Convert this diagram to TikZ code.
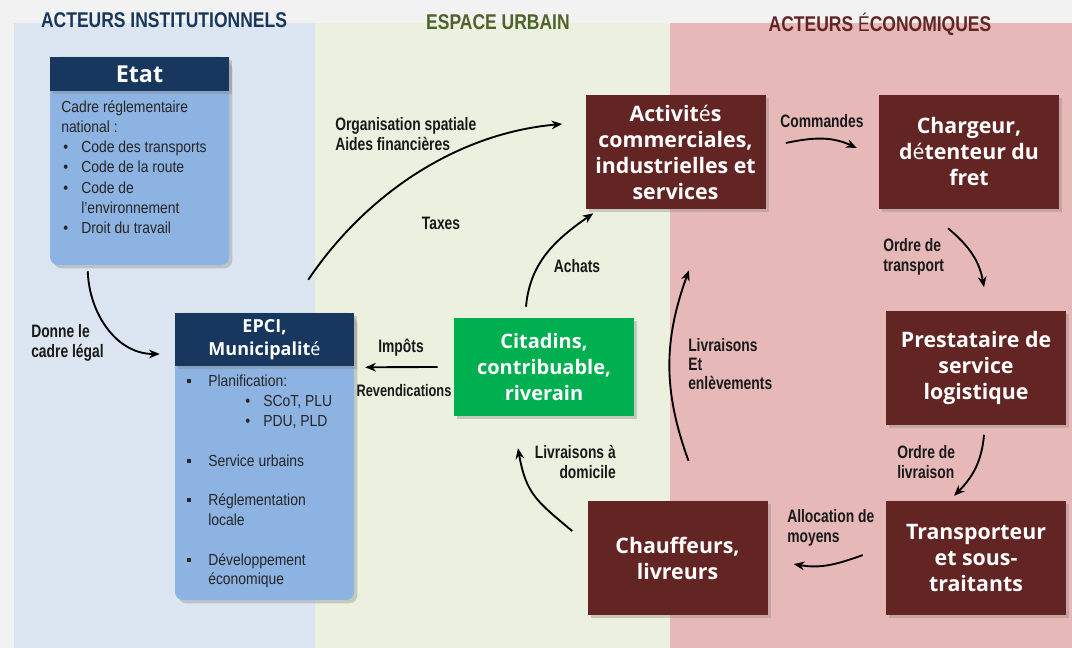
\documentclass[tikz,border=0pt]{standalone}
\usepackage{fontspec}
\setmainfont{Liberation Sans}
\newfontfamily\narrowfont[FakeStretch=0.87]{Liberation Sans}
\newfontfamily\labelfont[FakeStretch=0.77]{Liberation Sans}
\newfontfamily\headfont[FakeStretch=0.82]{Liberation Sans}
\newfontfamily\boxfont{Open Sans}
\usetikzlibrary{arrows.meta, positioning, shadows, calc}

\definecolor{pagegrey}{HTML}{F2F2F2}
\definecolor{instblue}{HTML}{DCE6F2}
\definecolor{urbgreen}{HTML}{EBF1DE}
\definecolor{ecopink}{HTML}{E6B9B8}
\definecolor{navy}{HTML}{17375E}
\definecolor{skyblue}{HTML}{8DB3E2}
\definecolor{wine}{HTML}{632523}
\definecolor{citygreen}{HTML}{00B050}
\definecolor{olive}{HTML}{4F6228}

\newcommand{\lite}[1]{{\mdseries#1}}
\newcommand{\sqb}{\makebox[15.75pt][l]{\rule[2.6pt]{3pt}{3pt}}}
\newcommand{\dotb}{\makebox[15pt][l]{\hspace*{1.5pt}•}}

\begin{document}
\begin{tikzpicture}[
    x=0.75pt, y=0.75pt,
    shade/.style={drop shadow={shadow xshift=2.5pt, shadow yshift=-2.5pt, opacity=0.35}},
    actor/.style={rectangle, fill=wine, text=white, align=center, minimum width=135pt, minimum height=85.5pt, shade,
        font=\boxfont\bfseries\fontsize{16pt}{19.5pt}\selectfont},
    blockhead/.style={rectangle, fill=navy, text=white, align=center, minimum width=134.25pt, shade},
    blockbody/.style={rectangle, rounded corners=6pt, fill=skyblue, minimum width=134.25pt, shade},
    bodytext/.style={font=\narrowfont\fontsize{12pt}{15.2pt}\selectfont, text=black!85, align=left, inner sep=0pt},
    tag/.style={font=\labelfont\bfseries\fontsize{13.5pt}{14.5pt}\selectfont, text=black!90, align=left, inner sep=0pt},
    title/.style={font=\headfont\bfseries\fontsize{16pt}{18pt}\selectfont},
    arrow/.style={-{Stealth[length=8pt, width=6.5pt]}, line width=1.4pt}
]

\useasboundingbox (0,0) rectangle (1072,-648);
\fill[pagegrey] (0,0) rectangle (1072,-648);
\fill[instblue] (14,-23) rectangle (315,-648);
\fill[urbgreen] (315,-23) rectangle (670,-648);
\fill[ecopink] (670,-23) rectangle (1072,-648);

\node[title, text=navy] (inst) at (164,-20) {ACTEURS INSTITUTIONNELS};
\node[title, text=olive] (urb) at (498,-22) {ESPACE URBAIN};
\node[title, text=wine] (eco) at (880,-24) {ACTEURS \lite{É}CONOMIQUES};

% acteurs institutionnels
\node[blockbody, minimum height=156pt] (etatbody) at (139.5,-161) {};
\node[blockhead, minimum height=25.5pt, font=\boxfont\bfseries\fontsize{17.5pt}{20pt}\selectfont] (etat) at (139.5,-74) {Etat};
\node[bodytext, anchor=north west] (etattext) at (61,-100) {Cadre réglementaire\\national :\\\dotb Code des transports\\\dotb Code de la route\\\dotb Code de\\\hspace*{15pt}l’environnement\\\dotb Droit du travail};

\node[blockbody, minimum height=215.25pt] (epcibody) at (264.5,-456.5) {};
\node[blockhead, minimum height=39.75pt, font=\boxfont\bfseries\fontsize{13.5pt}{17pt}\selectfont] (epci) at (264.5,-339.5) {EPCI,\\Municipalit\lite{é}};
\node[bodytext, anchor=north west, font=\narrowfont\fontsize{12pt}{14.8pt}\selectfont] (epcitext) at (187,-375) {\sqb Planification:\\\hspace*{42pt}\dotb SCoT, PLU\\\hspace*{42pt}\dotb PDU, PLD\\[15pt]\sqb Service urbains\\[15pt]\sqb Réglementation\\\hspace*{15.75pt}locale\\[15pt]\sqb Développement\\\hspace*{15.75pt}économique};

% espace urbain
\node[actor, fill=citygreen, minimum height=73.5pt, font=\boxfont\bfseries\fontsize{15pt}{19.5pt}\selectfont] (citadins) at (544,-367) {Citadins,\\contribuable,\\riverain};

% acteurs economiques
\node[actor] (activ) at (675.5,-152) {Activit\lite{é}s\\commerciales,\\industrielles et\\services};
\node[actor, right=84.75pt of activ] (charg) {Chargeur,\\d\lite{é}tenteur du\\fret};
\node[actor, below=75.75pt of charg, xshift=5.25pt] (presta) {Prestataire de\\service\\logistique};
\node[actor, below=57pt of presta] (transp) {Transporteur\\et sous-\\traitants};
\node[actor, left=88.5pt of transp] (chauff) {Chauffeurs,\\livreurs};

% labels
\node[tag, anchor=west] (legal) at (31,-343) {Donne le\\cadre légal};
\node[tag, anchor=west] (orga) at (335,-134) {Organisation spatiale\\Aides financières};
\node[tag] (taxes) at (441,-223) {Taxes};
\node[tag] (achats) at (577,-266) {Achats};
\node[tag] (impots) at (401,-348) {Impôts};
\node[tag, font=\labelfont\bfseries\fontsize{12.5pt}{14pt}\selectfont] (revend) at (404,-391) {Revendications};
\node[tag, anchor=east, align=right] (domicile) at (616,-462) {Livraisons à\\domicile};
\node[tag, anchor=west] (enlev) at (688,-364) {Livraisons\\Et\\enlèvements};
\node[tag] (cmd) at (822,-121) {Commandes};
\node[tag, anchor=west] (otransp) at (883,-257) {Ordre de\\transport};
\node[tag, anchor=west] (olivr) at (897,-462) {Ordre de\\livraison};
\node[tag, anchor=west] (alloc) at (787,-528) {Allocation de\\moyens};

% flux
\draw[arrow] ($(etatbody.south west)+(38,-6)$) to[out=-88, in=180] ($(epci.west)+(-15,-14.5)$);
\draw[arrow] ($(epci.north east)+(-46,33)$) to[out=56, in=185, looseness=0.9] ($(activ.west)+(-23,28)$);
\draw[arrow] ($(citadins.north)+(-18,11)$) to[out=85, in=215] ($(activ.south west)+(8,-4)$);
\draw[arrow] ($(citadins.west)+(-16,0)$) -- ($(epci.south east)+(11,-1)$);
\draw[arrow] ($(chauff.west)+(-15,27)$) to[out=140, in=-80, looseness=1.2] ($(citadins.south)+(-26,-32)$);
\draw[arrow] ($(chauff.north)+(11,40)$) to[out=110, in=-110] ($(activ.south)+(13.5,-61)$);
\draw[arrow] ($(activ.east)+(20,9)$) to[out=12, in=155] ($(charg.west)+(-22,4)$);
\draw[arrow] ($(charg.south)+(-21,-19)$) to[out=-40, in=100] ($(presta.north)+(8,23)$);
\draw[arrow] ($(presta.south)+(8,-10)$) to[out=-95, in=45] ($(transp.north)+(-22,5)$);
\draw[arrow] ($(transp.west)+(-23,3)$) to[out=200, in=-10] ($(chauff.east)+(26,-6)$);

\end{tikzpicture}
\end{document}
